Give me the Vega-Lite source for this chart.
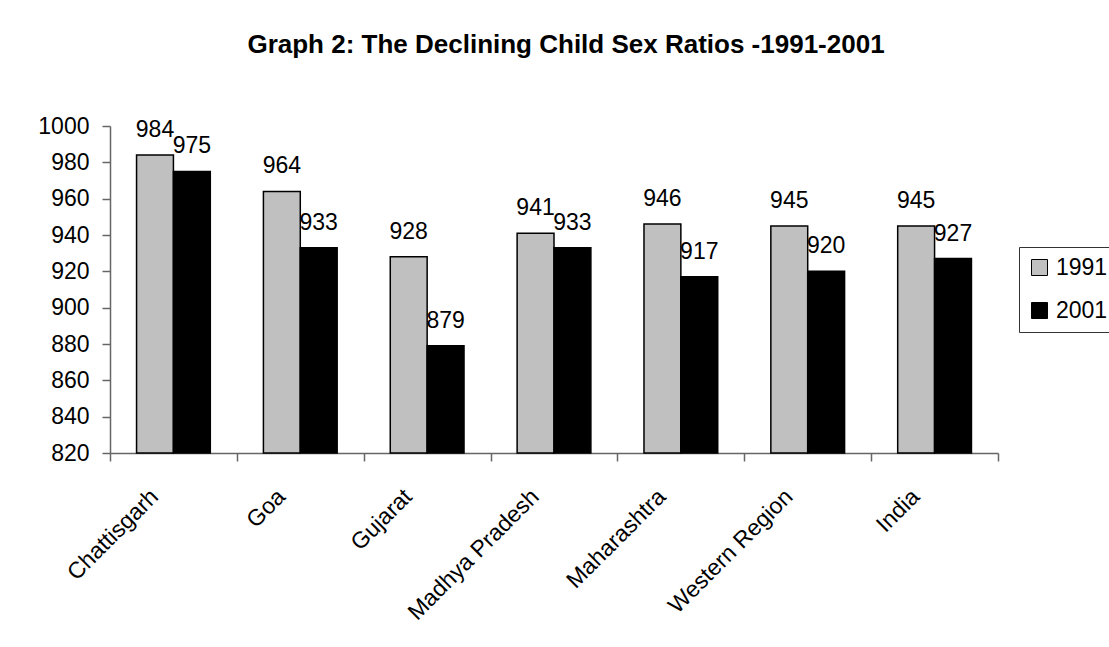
{
  "$schema": "https://vega.github.io/schema/vega-lite/v6.json",
  "width": 888,
  "height": 327,
  "autosize": {"type": "none"},
  "padding": {"left": 110, "top": 126, "right": 111, "bottom": 194},
  "background": "white",
  "title": {"text": "Graph 2: The Declining Child Sex Ratios -1991-2001", "fontSize": 26, "font": "Liberation Sans", "fontWeight": "bold", "color": "black", "anchor": "middle", "offset": 57, "dx": 12},
  "data": {"values": [
    {"region": "Chattisgarh", "year": "1991", "value": 984},
    {"region": "Chattisgarh", "year": "2001", "value": 975},
    {"region": "Goa", "year": "1991", "value": 964},
    {"region": "Goa", "year": "2001", "value": 933},
    {"region": "Gujarat", "year": "1991", "value": 928},
    {"region": "Gujarat", "year": "2001", "value": 879},
    {"region": "Madhya Pradesh", "year": "1991", "value": 941},
    {"region": "Madhya Pradesh", "year": "2001", "value": 933},
    {"region": "Maharashtra", "year": "1991", "value": 946},
    {"region": "Maharashtra", "year": "2001", "value": 917},
    {"region": "Western Region", "year": "1991", "value": 945},
    {"region": "Western Region", "year": "2001", "value": 920},
    {"region": "India", "year": "1991", "value": 945},
    {"region": "India", "year": "2001", "value": 927}
  ]},
  "encoding": {
    "x": {"field": "region", "type": "nominal", "sort": null,
      "scale": {"paddingInner": 0, "paddingOuter": 0},
      "axis": {"title": null, "labelAngle": -45, "labelAlign": "right", "labelBaseline": "top", "tickBand": "extent", "labelFontSize": 23, "labelFont": "Liberation Sans", "labelColor": "black", "labelPadding": 24, "labelOffset": -27, "tickSize": 8, "tickColor": "#666", "domainColor": "#666", "domainWidth": 1.5, "tickWidth": 1.5, "labelOverlap": false}},
    "xOffset": {"field": "year", "type": "nominal", "scale": {"paddingOuter": 0.72, "paddingInner": 0}},
    "y": {"field": "value", "type": "quantitative",
      "scale": {"domain": [820, 1000], "nice": false, "zero": false},
      "axis": {"title": null, "format": "d", "values": [820, 840, 860, 880, 900, 920, 940, 960, 980, 1000], "labelFontSize": 23, "labelFont": "Liberation Sans", "labelColor": "black", "labelPadding": 13, "tickSize": 8, "tickColor": "#666", "domainColor": "#666", "domainWidth": 1.5, "tickWidth": 1.5, "grid": false, "labelOverlap": false}}
  },
  "layer": [
    {"mark": {"type": "bar", "stroke": "black", "strokeWidth": 1.5},
     "encoding": {
       "y2": {"datum": 820},
       "fill": {"field": "year", "type": "nominal",
       "scale": {"domain": ["1991", "2001"], "range": ["#c0c0c0", "#000000"]},
       "legend": {"title": null, "orient": "none", "legendX": 909, "legendY": 121, "direction": "vertical", "symbolType": "square", "symbolSize": 256, "symbolStrokeColor": "black", "symbolStrokeWidth": 1, "labelFontSize": 23, "labelFont": "Liberation Sans", "labelColor": "black", "labelOffset": 5, "strokeColor": "#333", "fillColor": "white", "padding": 9, "rowPadding": 19}}}},
    {"mark": {"type": "text", "baseline": "alphabetic", "dy": -18, "fontSize": 23, "font": "Liberation Sans", "color": "black"},
     "encoding": {"text": {"field": "value", "type": "quantitative"}}}
  ],
  "config": {"view": {"stroke": null}}
}
